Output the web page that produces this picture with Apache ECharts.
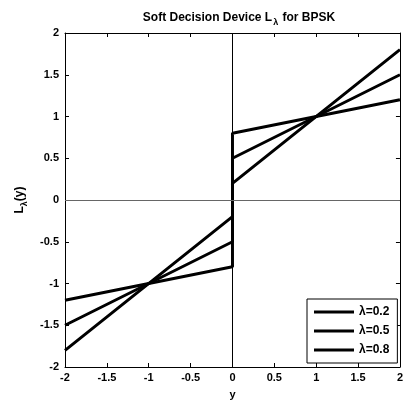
<!DOCTYPE html>
<html>
<head>
<meta charset="utf-8">
<script src="https://cdn.jsdelivr.net/npm/echarts@6/dist/echarts.min.js"></script>
<style>html,body{margin:0;padding:0;background:#fff;}#c{width:406px;height:405px;}</style>
</head>
<body>
<div id="c"></div>
<script>
const yValues = [-2, 0, 0, 2];
const lambda02 = [-1.8, -0.2, 0.2, 1.8];
const lambda05 = [-1.5, -0.5, 0.5, 1.5];
const lambda08 = [-1.2, -0.8, 0.8, 1.2];
const seriesNames = ['λ=0.2', 'λ=0.5', 'λ=0.8'];
const tickValues = [-2, -1.5, -1, -0.5, 0, 0.5, 1, 1.5, 2];

const FONT = 'Liberation Sans, Arial, sans-serif';
function pairs(vals) { return yValues.map((x, i) => [x, vals[i]]); }

const chart = echarts.init(document.getElementById('c'), null, {renderer: 'canvas'});
const lab = {color: '#000', fontFamily: FONT, fontWeight: 'bold', fontSize: 11};
const axisBase = {
  type: 'value', min: -2, max: 2, interval: 0.5,
  axisLine: {show: true, onZero: false, lineStyle: {color: '#000', width: 1}},
  axisTick: {show: true, inside: true, length: 4, lineStyle: {color: '#000'}},
  splitLine: {show: false}
};
const mkSeries = (name, vals) => ({
  name: name, type: 'line', data: pairs(vals), symbol: 'none',
  lineStyle: {color: '#000', width: 3}, itemStyle: {color: '#000'},
  animation: false, xAxisIndex: 0, yAxisIndex: 0
});
const s1 = mkSeries(seriesNames[0], lambda02);
s1.markLine = {
  silent: true, symbol: 'none', animation: false,
  label: {show: false},
  data: [
    {xAxis: 0, lineStyle: {color: '#000', width: 1, type: 'solid'}},
    {yAxis: 0, lineStyle: {color: '#666', width: 1, type: 'solid'}}
  ]
};
chart.setOption({
  animation: false,
  backgroundColor: '#fff',
  title: {
    text: '{a|Soft Decision Device L}{s|λ}{a| for BPSK}',
    left: 234, top: 4, textAlign: 'center',
    textStyle: {
      rich: {
        a: {fontFamily: FONT, fontSize: 12, fontWeight: 'bold', color: '#000'},
        s: {fontFamily: FONT, fontSize: 9, fontWeight: 'bold', color: '#000', padding: [9, 1, 0, 1]}
      }
    }
  },
  grid: {left: 65, right: 3, top: 33, bottom: 38, containLabel: false},
  legend: {
    data: seriesNames, orient: 'vertical', left: 307, top: 299,
    backgroundColor: '#fff', borderColor: '#000', borderWidth: 1,
    padding: [7, 8, 7, 7], itemWidth: 40, itemHeight: 14, itemGap: 7,
    textStyle: {color: '#000', fontFamily: FONT, fontWeight: 'bold', fontSize: 12},
    icon: 'path://M0,0 L40,0 L40,3 L0,3 Z',
    itemStyle: {color: '#000'}
  },
  xAxis: [
    Object.assign({}, axisBase, {
      position: 'bottom', name: 'y', nameLocation: 'middle', nameGap: 22,
      nameTextStyle: lab,
      axisLabel: Object.assign({margin: 5}, lab)
    }),
    Object.assign({}, axisBase, {position: 'top', axisLabel: {show: false}})
  ],
  yAxis: [
    Object.assign({}, axisBase, {
      position: 'left', name: '{a|L}{s|λ}{a|(y)}', nameLocation: 'middle', nameGap: 36, nameRotate: 90,
      nameTextStyle: {rich: {
        a: {fontFamily: FONT, fontSize: 12, fontWeight: 'bold', color: '#000'},
        s: {fontFamily: FONT, fontSize: 9, fontWeight: 'bold', color: '#000', padding: [9, 0, 0, 0]}
      }},
      axisLabel: Object.assign({margin: 6}, lab)
    }),
    Object.assign({}, axisBase, {position: 'right', axisLabel: {show: false}})
  ],
  series: [s1, mkSeries(seriesNames[1], lambda05), mkSeries(seriesNames[2], lambda08)]
});
</script>
</body>
</html>
